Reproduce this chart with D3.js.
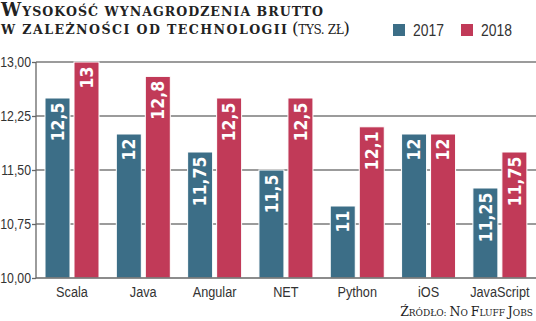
<!DOCTYPE html>
<html><head><meta charset="utf-8">
<script src="https://cdn.jsdelivr.net/npm/d3@7"></script>
<style>
body{margin:0;background:#fff;}
svg{display:block;}
</style></head>
<body>
<svg id="c" width="536" height="321"></svg>
<script>
const categories = ["Scala","Java","Angular","NET","Python","iOS","JavaScript"];
const seriesNames = ["2017","2018"];
const values2017 = [12.5, 12, 11.75, 11.5, 11, 12, 11.25];
const values2018 = [13, 12.8, 12.5, 12.5, 12.1, 12, 11.75];
const yTicks = [10, 10.75, 11.5, 12.25, 13];
const colors = ["#3c6e87", "#c13a58"];

const svg = d3.select("#c");
const fmt = v => d3.format(".2f")(v).replace(".", ",");
const fmtLabel = v => String(v).replace(".", ",");
const narrowFont = "'Liberation Sans', Arial, sans-serif";

const x0 = d3.scaleBand().domain(categories).range([36.3, 535.5]).padding(0);
const x1 = d3.scaleBand().domain(seriesNames).range([8.7, 62.7]).paddingInner(0.138);
const y = d3.scaleLinear().domain([10, 13]).range([278, 62]);

// gridlines
svg.append("g").selectAll("line").data(yTicks.slice(1)).join("line")
  .attr("x1", 36).attr("x2", 536)
  .attr("y1", d => y(d)).attr("y2", d => y(d))
  .attr("stroke", "#7a7a7a").attr("stroke-width", 1.3);

const data = categories.map((c, i) => ({c, vals: [values2017[i], values2018[i]]}));

const g = svg.append("g").selectAll("g").data(data).join("g")
  .attr("transform", d => `translate(${x0(d.c)},0)`);

const bars = g.selectAll("g.b").data(d => d.vals.map((v, j) => ({v, s: seriesNames[j], j}))).join("g").attr("class","b");
bars.append("rect")
  .attr("x", d => x1(d.s)).attr("width", x1.bandwidth())
  .attr("y", d => y(d.v)).attr("height", d => y(10) - y(d.v))
  .attr("fill", d => colors[d.j])
  .attr("stroke", "#fff").attr("stroke-width", 1);
bars.append("text")
  .attr("transform", d => `translate(${x1(d.s) + x1.bandwidth()/2 + 6.3},${y(d.v) + 4.5}) rotate(-90)`)
  .attr("text-anchor", "end")
  .attr("fill", "#fff")
  .attr("font-family", "'DejaVu Sans Condensed', 'DejaVu Sans'")
  .attr("font-stretch", "condensed")
  .attr("font-weight", "bold")
  .attr("font-size", 17.5)
  .text(d => fmtLabel(d.v));

// y axis
const yAxis = d3.axisLeft(y).tickValues(yTicks).tickFormat(fmt).tickSize(4).tickPadding(1);
const ya = svg.append("g").attr("transform", "translate(36,0)").call(yAxis);
ya.select(".domain").attr("stroke", "#666").attr("stroke-width", 1.3).attr("d", `M0,${y(13)}V${y(10)}`);
ya.selectAll(".tick line").attr("stroke", "#666").attr("stroke-width", 1.3);
ya.selectAll("text").attr("font-family", narrowFont)
  .attr("font-size", 15).attr("fill", "#333")
  .attr("x", null).attr("transform", "translate(-5,0) scale(0.82,1)");

// bottom line
svg.append("line").attr("x1", 36).attr("x2", 536).attr("y1", y(10)).attr("y2", y(10))
  .attr("stroke", "#666").attr("stroke-width", 1.5);

// category labels
const xAxis = d3.axisBottom(x0).tickSize(0).tickPadding(8);
const xa = svg.append("g").attr("transform", `translate(0,${y(10)})`).call(xAxis);
xa.select(".domain").remove();
xa.selectAll("text").attr("font-family", narrowFont)
  .attr("font-size", 15.5).attr("fill", "#333")
  .attr("transform", "scale(0.82,1)");

// small caps helper: real capitals large, lowercase drawn as small capitals
function smallCaps(sel, str, big, small) {
  const parts = [];
  for (const ch of str) {
    const isUpper = ch !== ch.toLowerCase();
    const size = isUpper ? big : small;
    const last = parts[parts.length - 1];
    if (last && last.size === size) last.t += ch.toUpperCase();
    else parts.push({t: ch.toUpperCase(), size});
  }
  parts.forEach(p => sel.append("tspan").attr("font-size", p.size).text(p.t));
  return sel;
}

// title
const tFont = "'DejaVu Serif', serif";
smallCaps(svg.append("text").attr("x", 1).attr("y", 16).attr("font-family", tFont).attr("fill", "#222")
  .attr("font-weight", "bold").attr("font-size", 12.6)
  .attr("textLength", 322).attr("lengthAdjust", "spacing"),
  "Wysokość wynagrodzenia brutto", 18, 12.6);
smallCaps(svg.append("text").attr("x", 1).attr("y", 34).attr("font-family", tFont).attr("fill", "#222")
  .attr("font-weight", "bold").attr("font-size", 12.6)
  .attr("textLength", 286).attr("lengthAdjust", "spacing"),
  "w zależności od technologii", 18, 12.6);
const paren = svg.append("text").attr("x", 292).attr("y", 34).attr("font-family", tFont).attr("fill", "#222")
  .attr("font-size", 12.6).attr("textLength", 58).attr("lengthAdjust", "spacing");
paren.append("tspan").attr("font-size", 17).attr("font-weight", "300").text("(");
paren.append("tspan").attr("font-size", 12).text("TYS. ZŁ");
paren.append("tspan").attr("font-size", 17).attr("font-weight", "300").text(")");

// legend
const leg = svg.append("g").selectAll("g").data(seriesNames).join("g")
  .attr("transform", (d, i) => `translate(${393 + i * 68},24)`);
leg.append("rect").attr("width", 12).attr("height", 12).attr("fill", (d, i) => colors[i]);
leg.append("text").attr("transform", "translate(20,12) scale(0.82,1)")
  .attr("font-family", narrowFont)
  .attr("font-size", 17).attr("fill", "#333").text(d => d);

// source
smallCaps(svg.append("text").attr("x", 533).attr("y", 316).attr("text-anchor", "end")
  .attr("font-family", tFont).attr("font-size", 9).attr("fill", "#222"),
  "Źródło: No Fluff Jobs", 12.5, 9);
</script>
</body></html>
